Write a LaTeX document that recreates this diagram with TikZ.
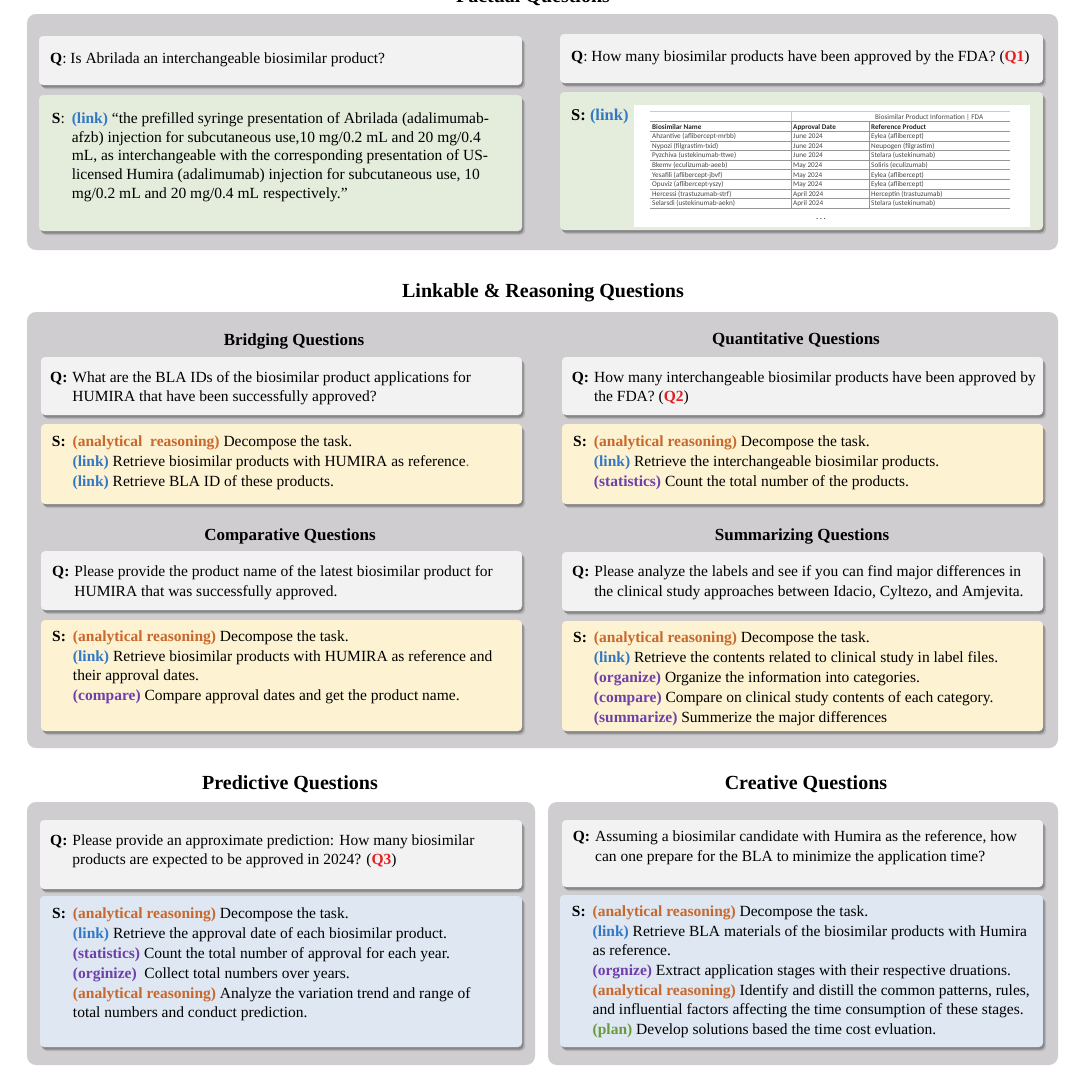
\documentclass[tikz,border=0pt]{standalone}
\usepackage{fontspec}
\setmainfont{Liberation Serif}
\newfontfamily\tabfont{Carlito}
\usetikzlibrary{shadows}
\definecolor{panelgray}{RGB}{207,205,208}
\definecolor{qgray}{RGB}{242,242,242}
\definecolor{sgreen}{RGB}{228,236,220}
\definecolor{syellow}{RGB}{253,242,210}
\definecolor{sblue}{RGB}{222,231,242}
\definecolor{arC}{RGB}{200,104,44}
\definecolor{linkC}{RGB}{52,120,196}
\definecolor{purpC}{RGB}{112,64,170}
\definecolor{planC}{RGB}{106,154,60}
\definecolor{qred}{RGB}{228,30,30}
\definecolor{tabline}{RGB}{150,150,150}
\definecolor{tabtext}{RGB}{70,70,70}
\newcommand{\tg}[2]{\textcolor{#1}{\textbf{(#2)}}}
\newcommand{\qgap}{@{}l@{\hspace{5pt}}l@{}}
\newcommand{\sgap}{@{}l@{\hspace{7pt}}l@{}}
\begin{document}
\begin{tikzpicture}[x=1pt,y=-1pt,
  panel/.style={fill=panelgray, rounded corners=9pt},
  card/.style={rounded corners=4pt,
    drop shadow={shadow xshift=3pt, shadow yshift=-4pt, fill=black, opacity=0.12},
    drop shadow={shadow xshift=1.5pt, shadow yshift=-2.5pt, fill=black, opacity=0.25}},
  qcard/.style={card, fill=qgray},
  gcard/.style={card, fill=sgreen},
  ycard/.style={card, fill=syellow},
  bcard/.style={card, fill=sblue},
  body/.style={anchor=base west, inner sep=0pt, font=\fontsize{15.5}{20}\selectfont},
  qbody/.style={anchor=base west, inner sep=0pt, font=\fontsize{15.5}{19.3}\selectfont},
  head/.style={anchor=base, inner sep=0pt, font=\bfseries\fontsize{20}{24}\selectfont},
  subhead/.style={anchor=base, inner sep=0pt, font=\bfseries\fontsize{17}{20}\selectfont},
  tcell/.style={anchor=base west, inner sep=0pt, font=\tabfont\fontsize{7.2}{8}\selectfont, text=tabtext},
  thead/.style={tcell, font=\tabfont\bfseries\fontsize{7.2}{8}\selectfont, text=black!85},
  tline/.style={draw=tabline, line width=0.9pt}
]
\useasboundingbox (0,0) rectangle (1080,1080);
\fill[white] (0,0) rectangle (1080,1080);

% ---------------- Factual ----------------
\node[head] (tFact) at (533,2.5) {Factual Questions};
\path[panel] (27,14) rectangle (1058,250);
\path[qcard] (39,36) rectangle (522,85);
\path[gcard] (39,95) rectangle (522,231);
\node[qbody] (qF1) at (50,63) {\textbf{Q}: Is Abrilada an interchangeable biosimilar product?};
\node[body] (sF1) at (51.7,123.3) {\begin{tabular}[t]{\sgap}
\textbf{S}: & \tg{linkC}{link} “the prefilled syringe presentation of Abrilada (adalimumab-\\[-1.3pt]
 & afzb) injection for subcutaneous use,10 mg/0.2 mL and 20 mg/0.4\\[-1.3pt]
 & mL, as interchangeable with the corresponding presentation of US-\\[-1.3pt]
 & licensed Humira (adalimumab) injection for subcutaneous use, 10\\[-1.3pt]
 & mg/0.2 mL and 20 mg/0.4 mL respectively.”
\end{tabular}};

\path[qcard] (560,34) rectangle (1043,83);
\path[gcard] (560,92) rectangle (1043,230);
\node[qbody] (qF2) at (571,61.7) {\textbf{Q}: How many biosimilar products have been approved by the FDA? (\textcolor{qred}{\textbf{Q1}})};
\node[body, font=\fontsize{16.5}{20}\selectfont] (sF2) at (571,120.5) {\textbf{S:} \tg{linkC}{link}};

% table image
\fill[white] (634,105) rectangle (1030,227);
\draw[draw=tabline!50, line width=0.6pt] (650,111.5) -- (1010,111.5);
\draw[draw=tabline!50, line width=0.6pt] (791,111.5) -- (791,121.7);
\foreach \yy in {121.7,131.5,141,150.6,160.2,169.8,179.4,189,198.6,208.2}
  \draw[tline] (650,\yy) -- (1010,\yy);
\draw[tline] (791,121.7) -- (791,208.2);
\draw[tline] (869,121.7) -- (869,208.2);
\node[tcell] (tTitle) at (875,119.6) {Biosimilar Product Information | FDA};
\node[thead] (h1) at (652,129.2) {Biosimilar Name};
\node[thead] (h2) at (793,129.2) {Approval Date};
\node[thead] (h3) at (871,129.2) {Reference Product};
\foreach \na/\da/\re [count=\i] in {
  Ahzantive (aflibercept-mrbb)/June 2024/Eylea (aflibercept),
  Nypozi (filgrastim-txid)/June 2024/Neupogen (filgrastim),
  Pyzchiva (ustekinumab-ttwe)/June 2024/Stelara (ustekinumab),
  Bkemv (eculizumab-aeeb)/May 2024/Soliris (eculizumab),
  Yesafili (aflibercept-jbvf)/May 2024/Eylea (aflibercept),
  Opuviz (aflibercept-yszy)/May 2024/Eylea (aflibercept),
  Hercessi (trastuzumab-strf)/April 2024/Herceptin (trastuzumab),
  Selarsdi (ustekinumab-aekn)/April 2024/Stelara (ustekinumab)}{
  \node[tcell] (na\i) at (652,{138.7+9.6*(\i-1)}) {\na};
  \node[tcell] (da\i) at (793,{138.7+9.6*(\i-1)}) {\da};
  \node[tcell] (re\i) at (871,{138.7+9.6*(\i-1)}) {\re};
}
\node[anchor=base, inner sep=0pt, font=\fontsize{9}{10}\selectfont] (dots) at (821,219) {.\,.\,.};

% ---------------- Linkable & Reasoning ----------------
\node[head] (tLink) at (543,297) {Linkable \& Reasoning Questions};
\path[panel] (27,312) rectangle (1058,748);

\node[subhead] (tBr) at (294,345.5) {Bridging Questions};
\path[qcard] (41,357) rectangle (522,415);
\path[ycard] (41,424) rectangle (522,504);
\node[qbody] (qBr) at (50,382.3) {\begin{tabular}[t]{\qgap}
\textbf{Q:} & What are the BLA IDs of the biosimilar product applications for\\
 & HUMIRA that have been successfully approved?
\end{tabular}};
\node[body] (sBr) at (51.7,446.7) {\begin{tabular}[t]{\sgap}
\textbf{S:} & \tg{arC}{analytical\ \ reasoning} Decompose the task.\\
 & \tg{linkC}{link} Retrieve biosimilar products with HUMIRA as reference\textcolor{linkC}{.}\\
 & \tg{linkC}{link} Retrieve BLA ID of these products.
\end{tabular}};

\node[subhead] (tQu) at (796,344) {Quantitative Questions};
\path[qcard] (562,357) rectangle (1043,415);
\path[ycard] (562,424) rectangle (1043,504);
\node[qbody] (qQu) at (571.7,382) {\begin{tabular}[t]{\qgap}
\textbf{Q:} & How many interchangeable biosimilar products have been approved by\\
 & the FDA? (\textcolor{qred}{\textbf{Q2}})
\end{tabular}};
\node[body] (sQu) at (573,446.7) {\begin{tabular}[t]{\sgap}
\textbf{S:} & \tg{arC}{analytical reasoning} Decompose the task.\\
 & \tg{linkC}{link} Retrieve the interchangeable biosimilar products.\\
 & \tg{purpC}{statistics} Count the total number of the products.
\end{tabular}};

\node[subhead] (tCo) at (290,540.5) {Comparative Questions};
\path[qcard] (41,551) rectangle (522,610);
\path[ycard] (41,620) rectangle (522,731);
\node[qbody] (qCo) at (52,576.7) {\begin{tabular}[t]{\qgap}
\textbf{Q:} & Please provide the product name of the latest biosimilar product for\\
 & HUMIRA that was successfully approved.
\end{tabular}};
\node[body] (sCo) at (52,641.7) {\begin{tabular}[t]{\sgap}
\textbf{S:} & \tg{arC}{analytical reasoning} Decompose the task.\\
 & \tg{linkC}{link} Retrieve biosimilar products with HUMIRA as reference and\\[-1.7pt]
 & their approval dates.\\
 & \tg{purpC}{compare} Compare approval dates and get the product name.
\end{tabular}};

\node[subhead] (tSu) at (802,540.5) {Summarizing Questions};
\path[qcard] (562,552) rectangle (1043,611);
\path[ycard] (562,621) rectangle (1043,731);
\node[qbody] (qSu) at (572,576.7) {\begin{tabular}[t]{\qgap}
\textbf{Q:} & Please analyze the labels and see if you can find major differences in\\
 & the clinical study approaches between Idacio, Cyltezo, and Amjevita.
\end{tabular}};
\node[body] (sSu) at (573,642.7) {\begin{tabular}[t]{\sgap}
\textbf{S:} & \tg{arC}{analytical reasoning} Decompose the task.\\
 & \tg{linkC}{link} Retrieve the contents related to clinical study in label files.\\
 & \tg{purpC}{organize} Organize the information into categories.\\
 & \tg{purpC}{compare} Compare on clinical study contents of each category.\\
 & \tg{purpC}{summarize} Summerize the major differences
\end{tabular}};

% ---------------- Predictive ----------------
\node[head] (tPr) at (290,789) {Predictive Questions};
\path[panel] (27,802) rectangle (535,1065);
\path[qcard] (40,820) rectangle (522,889);
\path[bcard] (40,896) rectangle (522,1047);
\node[qbody] (qPr) at (50,845) {\begin{tabular}[t]{\qgap}
\textbf{Q:} & Please provide an approximate prediction: How many biosimilar\\
 & products are expected to be approved in 2024? (\textcolor{qred}{\textbf{Q3}})
\end{tabular}};
\node[body] (sPr) at (52,918.3) {\begin{tabular}[t]{\sgap}
\textbf{S:} & \tg{arC}{analytical reasoning} Decompose the task.\\
 & \tg{linkC}{link} Retrieve the approval date of each biosimilar product.\\
 & \tg{purpC}{statistics} Count the total number of approval for each year.\\
 & \tg{purpC}{orginize}\ \ Collect total numbers over years.\\
 & \tg{arC}{analytical reasoning} Analyze the variation trend and range of\\[-0.6pt]
 & total numbers and conduct prediction.
\end{tabular}};

% ---------------- Creative ----------------
\node[head] (tCr) at (806,789) {Creative Questions};
\path[panel] (548,802) rectangle (1058,1065);
\path[qcard] (562,820) rectangle (1043,887);
\path[bcard] (560,895) rectangle (1043,1047);
\node[qbody] (qCr) at (572.7,841.7) {\begin{tabular}[t]{\qgap}
\textbf{Q:} & Assuming a biosimilar candidate with Humira as the reference, how\\
 & can one prepare for the BLA to minimize the application time?
\end{tabular}};
\node[body] (sCr) at (571.7,916.7) {\begin{tabular}[t]{\sgap}
\textbf{S:} & \tg{arC}{analytical reasoning} Decompose the task.\\
 & \tg{linkC}{link} Retrieve BLA materials of the biosimilar products with Humira\\[-1.7pt]
 & as reference.\\
 & \tg{purpC}{orgnize} Extract application stages with their respective druations.\\
 & \tg{arC}{analytical reasoning} Identify and distill the common patterns, rules,\\[-0.7pt]
 & and influential factors affecting the time consumption of these stages.\\
 & \tg{planC}{plan} Develop solutions based the time cost evluation.
\end{tabular}};
\end{tikzpicture}
\end{document}
